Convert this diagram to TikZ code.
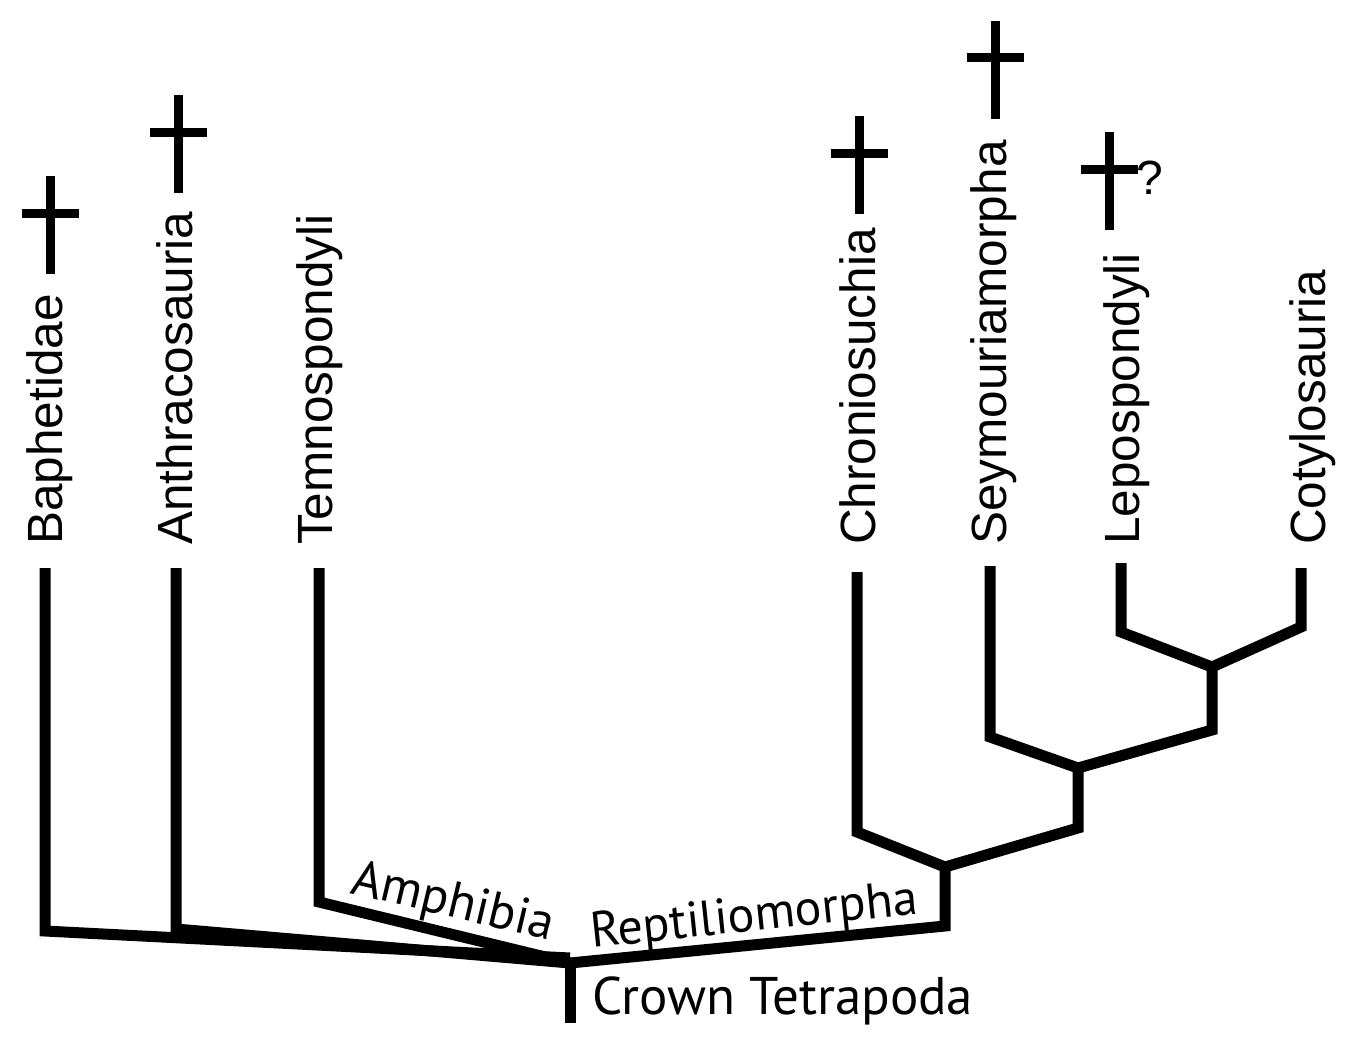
\documentclass[tikz,border=0pt]{standalone}
\usepackage{fontspec}
\newfontfamily\helv{Liberation Sans}
\newfontfamily\myr{PT Sans}
\begin{document}
\begin{tikzpicture}[x=1pt,y=-1pt,
  branch/.style={line width=11pt,line join=miter,line cap=butt},
  taxon/.style={rotate=90,anchor=base west,inner sep=0pt,font=\helv\fontsize{49.5}{50}\selectfont},
  clade/.style={anchor=base west,inner sep=0pt,font=\myr\fontsize{50}{50}\selectfont},
  dagger/.pic={\draw[line width=9pt] (0,0) -- (0,98) (-28.5,37) -- (28.5,37);}
]
\useasboundingbox (0,0) rectangle (1348,1041);
% coordinates
\coordinate (bapT) at (45,568);
\coordinate (bapB) at (45,931);
\coordinate (antT) at (176,568);
\coordinate (antB) at (176,929);
\coordinate (temT) at (319,568);
\coordinate (temB) at (319,902);
\coordinate (root) at (570,963);
\coordinate (rootB) at (570,1023);
\coordinate (repB) at (945,926);
\coordinate (n1) at (945,867);
\coordinate (chrT) at (857,572);
\coordinate (chrB) at (857,832);
\coordinate (n1R) at (1078,828);
\coordinate (n2) at (1078,768);
\coordinate (seyT) at (990,566);
\coordinate (seyB) at (990,737);
\coordinate (n2R) at (1212,730);
\coordinate (n3) at (1212,667);
\coordinate (lepT) at (1121,563);
\coordinate (lepB) at (1121,632);
\coordinate (cotB) at (1301,627);
\coordinate (cotT) at (1301,568);
% branches
\draw[branch] (bapT) -- (bapB) -- ([yshift=5pt]root);
\draw[branch] (antT) -- (antB) -- (root);
\draw[branch] (temT) -- (temB) -- (root);
\draw[branch] (root) -- (rootB);
\draw[branch] ([xshift=-5pt]root) -- (root) -- (repB) -- (n1);
\draw[branch] (chrT) -- (chrB) -- (n1) -- (n1R) -- (n2);
\draw[branch] (seyT) -- (seyB) -- (n2) -- (n2R) -- (n3);
\draw[branch] (lepT) -- (lepB) -- (n3) -- (cotB) -- (cotT);
% taxon labels
\node[taxon] (bap) at (62,545) {Baphetidae};
\node[taxon] (ant) at (192,545) {Anthracosauria};
\node[taxon] (tem) at (332,545) {Temnospondyli};
\node[taxon] (chr) at (875,545) {Chroniosuchia};
\node[taxon] (sey) at (1006,545) {Seymouriamorpha};
\node[taxon] (lep) at (1139,545) {Lepospondyli};
\node[taxon] (cot) at (1325,545) {Cotylosauria};
% extinction daggers
\pic at (50,176) {dagger};
\pic at (178,95) {dagger};
\pic at (859,116) {dagger};
\pic at (995,21) {dagger};
\pic at (1109,132) {dagger};
\node[anchor=base west,inner sep=0pt,font=\helv\fontsize{48}{50}\selectfont] (q) at (1136,194) {?};
% clade labels
\node[clade,rotate=-13.3,font=\myr\fontsize{51}{50}\selectfont] (amph) at (349,893) {Amphibia};
\node[clade,rotate=6] (rept) at (592,948) {Reptiliomorpha};
\node[clade,font=\myr\fontsize{53}{50}\selectfont] (crown) at (592,1014) {Crown Tetrapoda};
\end{tikzpicture}
\end{document}
